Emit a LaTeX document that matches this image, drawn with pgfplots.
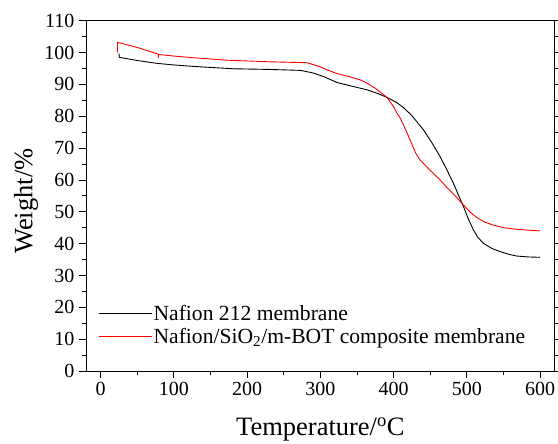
\documentclass[border=0pt]{standalone}
\usepackage{fontspec}
\setmainfont{Liberation Serif}
\usepackage{pgfplots}
\pgfplotsset{compat=1.18}
\begin{document}
\begin{tikzpicture}
\begin{axis}[
  scale only axis,
  width=468.7pt, height=350.3pt,
  xmin=-20, xmax=620, ymin=0, ymax=110,
  xtick={0,100,...,600}, ytick={0,10,...,110},
  minor x tick num=1, minor y tick num=1,
  tick align=outside,
  xtick pos=left, ytick pos=both,
  major tick length=7pt, minor tick length=4pt,
  axis line style={line width=0.9pt},
  every tick/.style={line width=0.8pt, black},
  /pgf/number format/assume math mode=true,
  tick label style={font=\fontsize{20}{24}\selectfont},
  xticklabel style={yshift=-1pt},
  yticklabel style={xshift=-1pt},
  xlabel={Temperature/\textsuperscript{o}C},
  ylabel={Weight/\%},
  label style={font=\fontsize{26.5}{30}\selectfont},
  xlabel style={at={(axis description cs:0.5,-0.168)}, anchor=center},
  ylabel style={at={(axis description cs:-0.128,0.485)}, anchor=center, rotate=0},
  legend style={draw=none, fill=none, at={(axis description cs:0.0256,0.192)}, anchor=north west,
    font=\fontsize{21.6}{24}\selectfont, inner sep=0pt, row sep=3pt,
    nodes={inner sep=1.5pt}},
  legend cell align=left,
  legend image code/.code={\draw[#1] (0pt,0pt) -- (48pt,0pt); \path (0pt,0pt) -- (53pt,0pt);},
]
\addplot[black, line width=0.9pt] coordinates {
(25,99.7) (25.5,98.5) (50,97.5) (77,96.6) (100,96.1) (130,95.6) (181.8,94.9)
(230,94.7) (272.7,94.4) (290,93.6) (305,92.4) (322.7,90.6) (340,89.6)
(363.6,88.3) (380,87.0) (391,85.9) (405,84.2) (413.6,82.7) (425,80.2)
(440.9,75.7) (452,71.8) (463.6,67.3) (472,63.5) (481.8,58.9) (490,54.5)
(495.5,51.6) (502,47.8) (509,44.3) (515,42.0) (522.7,40.1) (535,38.4)
(545.5,37.5) (558,36.6) (568.2,36.1) (585,35.8) (600,35.7)
};
\addlegendentry{Nafion 212 membrane}
\addplot[red, line width=0.9pt] coordinates {
(23,100.0) (23.1,103.2) (50,101.6) (78.6,99.5) (78.7,98.2) (78.8,99.4)
(100,98.9) (130,98.3) (172.7,97.6) (230,97.1) (281.8,96.8) (292,96.1)
(300,95.5) (310,94.5) (322.7,93.4) (340,92.4) (354.5,91.4) (363.6,90.4)
(375,88.8) (385,87.0) (391,85.9) (400,83.0) (405,80.8) (409,79.5)
(416,76.0) (422.7,72.5) (430,68.5) (436.4,66.2) (450,63.0) (463.6,60.0)
(472,57.8) (481.8,55.6) (495.5,52.1) (505,49.8) (513.6,48.2) (525,46.7)
(536.4,45.8) (550,45.0) (568.2,44.5) (585,44.2) (600,44.0)
};
\addlegendentry{Nafion/SiO\textsubscript{2}/m-BOT composite membrane}
\end{axis}
\pgfresetboundingbox
\path (current axis.south west) ++(-86pt,-73pt) rectangle ++(558pt,444pt);
\end{tikzpicture}
\end{document}
